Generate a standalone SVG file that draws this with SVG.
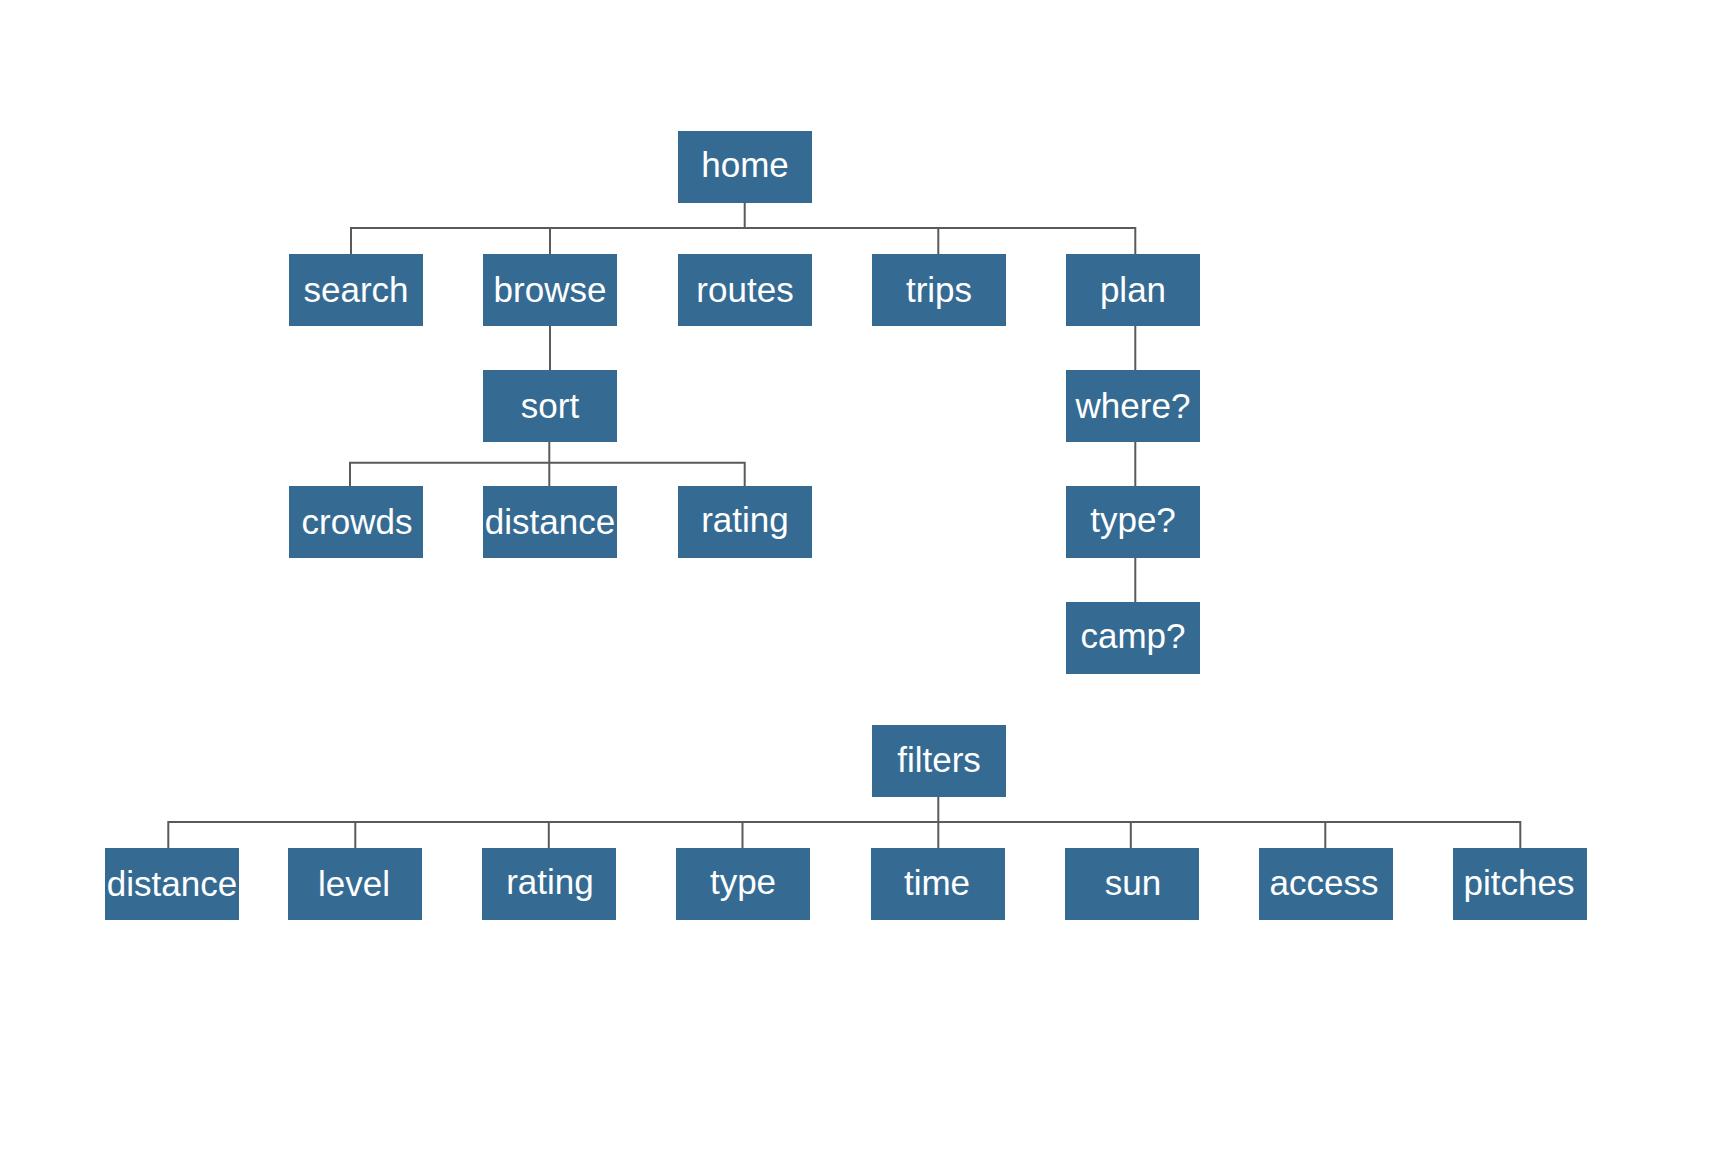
<svg xmlns="http://www.w3.org/2000/svg" width="1735" height="1176" viewBox="0 0 1735 1176">
<style>
.box{fill:#356b93}
.lbl{fill:#ffffff;font-family:"Liberation Sans",Arial,Helvetica,sans-serif;font-size:35px;text-anchor:middle}
.conn{fill:none;stroke:#5a5a5a;stroke-width:2}
</style>
<rect width="1735" height="1176" fill="#ffffff"/>
<g id="connectors" class="conn">
<path d="M744.7 202.7V228M351 254V228H1135.3V254M550 228V254M938.3 228V254"/>
<path d="M550 325.7V370"/>
<path d="M1135.3 325.7V370M1135.3 441.7V486M1135.3 557.7V602"/>
<path d="M549.3 441.7V486M350 486V462.7H744.7V486"/>
<path d="M938.3 796.7V848M168.3 848V822H1520.3V848M355.3 822V848M548.8 822V848M742.5 822V848M1130.8 822V848M1325.3 822V848"/>
</g>
<g id="home"><rect class="box" x="678" y="131" width="134" height="72"/><text class="lbl" x="745" y="177">home</text></g>
<g id="search"><rect class="box" x="289" y="254" width="134" height="72"/><text class="lbl" x="356" y="302">search</text></g>
<g id="browse"><rect class="box" x="483" y="254" width="134" height="72"/><text class="lbl" x="550" y="302">browse</text></g>
<g id="routes"><rect class="box" x="678" y="254" width="134" height="72"/><text class="lbl" x="745" y="302">routes</text></g>
<g id="trips"><rect class="box" x="872" y="254" width="134" height="72"/><text class="lbl" x="939" y="302">trips</text></g>
<g id="plan"><rect class="box" x="1066" y="254" width="134" height="72"/><text class="lbl" x="1133" y="302">plan</text></g>
<g id="sort"><rect class="box" x="483" y="370" width="134" height="72"/><text class="lbl" x="550" y="418">sort</text></g>
<g id="where"><rect class="box" x="1066" y="370" width="134" height="72"/><text class="lbl" x="1133" y="418">where?</text></g>
<g id="crowds"><rect class="box" x="289" y="486" width="134" height="72"/><text class="lbl" x="357" y="534">crowds</text></g>
<g id="sort-distance"><rect class="box" x="483" y="486" width="134" height="72"/><text class="lbl" x="550" y="534">distance</text></g>
<g id="sort-rating"><rect class="box" x="678" y="486" width="134" height="72"/><text class="lbl" x="745" y="532">rating</text></g>
<g id="type-q"><rect class="box" x="1066" y="486" width="134" height="72"/><text class="lbl" x="1133" y="532">type?</text></g>
<g id="camp"><rect class="box" x="1066" y="602" width="134" height="72"/><text class="lbl" x="1133" y="648">camp?</text></g>
<g id="filters"><rect class="box" x="872" y="725" width="134" height="72"/><text class="lbl" x="939" y="772">filters</text></g>
<g id="f-distance"><rect class="box" x="105" y="848" width="134" height="72"/><text class="lbl" x="172" y="896">distance</text></g>
<g id="f-level"><rect class="box" x="288" y="848" width="134" height="72"/><text class="lbl" x="354" y="896">level</text></g>
<g id="f-rating"><rect class="box" x="482" y="848" width="134" height="72"/><text class="lbl" x="550" y="894">rating</text></g>
<g id="f-type"><rect class="box" x="676" y="848" width="134" height="72"/><text class="lbl" x="743" y="894">type</text></g>
<g id="f-time"><rect class="box" x="871" y="848" width="134" height="72"/><text class="lbl" x="937" y="895">time</text></g>
<g id="f-sun"><rect class="box" x="1065" y="848" width="134" height="72"/><text class="lbl" x="1133" y="895">sun</text></g>
<g id="f-access"><rect class="box" x="1259" y="848" width="134" height="72"/><text class="lbl" x="1324" y="895">access</text></g>
<g id="f-pitches"><rect class="box" x="1453" y="848" width="134" height="72"/><text class="lbl" x="1519" y="895">pitches</text></g>
</svg>
